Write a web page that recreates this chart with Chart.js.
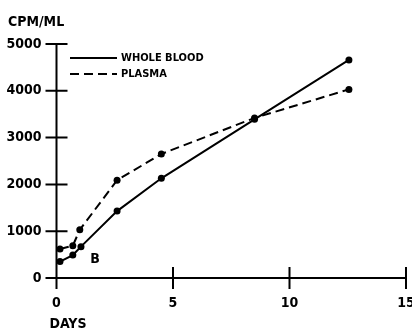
<!DOCTYPE html>
<html>
<head>
<meta charset="utf-8">
<script src="https://cdn.jsdelivr.net/npm/chart.js@4.4.0/dist/chart.umd.min.js"></script>
<style>
  html, body { margin: 0; padding: 0; background: #fff; }
  #wrap { width: 412px; height: 331px; position: relative; }
</style>
</head>
<body>
<div id="wrap"><canvas id="chart"></canvas></div>
<script>
// data
const wholeBloodDays = [0.15, 0.7, 1.05, 2.6, 4.5, 8.5, 12.55];
const wholeBloodCpm = [350, 490, 670, 1430, 2130, 3390, 4660];
const plasmaDays = [0.15, 0.7, 1.0, 2.6, 4.5, 8.5, 12.55];
const plasmaCpm = [620, 690, 1030, 2090, 2650, 3420, 4030];
const xTicks = [0, 5, 10, 15];
const yTicks = [0, 1000, 2000, 3000, 4000, 5000];

const FONT = '"DejaVu Sans Condensed", "DejaVu Sans", sans-serif';

function toPoints(xs, ys) {
  return xs.map((x, i) => ({ x: x, y: ys[i] }));
}

// axes drawn through the origin with ticks crossing the line, plus legend and labels
const crossAxes = {
  id: 'crossAxes',
  afterDraw(chart) {
    const ctx = chart.ctx;
    const xs = chart.scales.x;
    const ys = chart.scales.y;
    const x0 = xs.getPixelForValue(0);
    const y0 = ys.getPixelForValue(0);
    const t = 11;
    ctx.save();
    ctx.strokeStyle = '#000';
    ctx.lineWidth = 2;
    ctx.beginPath();
    ctx.moveTo(x0, y0);
    ctx.lineTo(xs.getPixelForValue(15), y0);
    ctx.moveTo(x0, y0);
    ctx.lineTo(x0, ys.getPixelForValue(5000));
    xTicks.forEach(v => {
      const px = xs.getPixelForValue(v);
      ctx.moveTo(px, y0 - t);
      ctx.lineTo(px, y0 + t);
    });
    yTicks.forEach(v => {
      const py = ys.getPixelForValue(v);
      ctx.moveTo(x0 - t, py);
      ctx.lineTo(x0 + t, py);
    });
    ctx.stroke();

    // legend: line sample + name
    chart.data.datasets.forEach((ds, i) => {
      const ly = 58 + i * 16;
      ctx.beginPath();
      ctx.setLineDash(ds.borderDash || []);
      ctx.lineWidth = ds.borderWidth;
      ctx.moveTo(70, ly);
      ctx.lineTo(117, ly);
      ctx.stroke();
      ctx.setLineDash([]);
      ctx.fillStyle = '#000';
      ctx.font = 'bold 11px ' + FONT;
      ctx.textAlign = 'left';
      ctx.textBaseline = 'middle';
      ctx.fillText(ds.label, 121, ly);
    });

    // titles and panel letter
    ctx.fillStyle = '#000';
    ctx.font = 'bold 14px ' + FONT;
    ctx.textBaseline = 'middle';
    ctx.textAlign = 'left';
    ctx.fillText('CPM/ML', 8, 22);
    ctx.textAlign = 'center';
    ctx.fillText('DAYS', 68, 324);
    ctx.fillText('B', xs.getPixelForValue(1.65), ys.getPixelForValue(400));
    ctx.restore();
  }
};

new Chart(document.getElementById('chart'), {
  type: 'line',
  data: {
    datasets: [
      {
        label: 'WHOLE BLOOD',
        data: toPoints(wholeBloodDays, wholeBloodCpm),
        borderColor: '#000',
        backgroundColor: '#000',
        borderWidth: 2,
        pointRadius: 3.5,
        pointBackgroundColor: '#000',
        pointBorderWidth: 0,
        tension: 0
      },
      {
        label: 'PLASMA',
        data: toPoints(plasmaDays, plasmaCpm),
        borderColor: '#000',
        backgroundColor: '#000',
        borderWidth: 2,
        borderDash: [9, 5],
        pointRadius: 3.5,
        pointBackgroundColor: '#000',
        pointBorderWidth: 0,
        tension: 0
      }
    ]
  },
  options: {
    responsive: true,
    maintainAspectRatio: false,
    animation: false,
    layout: { padding: { left: 0, right: 6, top: 44, bottom: 0 } },
    scales: {
      x: {
        type: 'linear',
        min: 0,
        max: 15,
        afterBuildTicks: s => { s.ticks = xTicks.map(v => ({ value: v })); },
        afterFit: s => { s.height = 53; s.paddingRight = 0; s.paddingLeft = 0; },
        grid: { display: false },
        border: { display: false },
        ticks: {
          color: '#000',
          padding: 9,
          callback: v => String(v),
          font: { family: FONT, size: 14, weight: 'bold' }
        }
      },
      y: {
        type: 'linear',
        min: 0,
        max: 5000,
        afterBuildTicks: s => { s.ticks = yTicks.map(v => ({ value: v })); },
        afterFit: s => { s.width = 56.5; },
        grid: { display: false },
        border: { display: false },
        ticks: {
          color: '#000',
          padding: 7,
          callback: v => String(v),
          font: { family: FONT, size: 14, weight: 'bold' }
        }
      }
    },
    plugins: {
      tooltip: { enabled: false },
      legend: { display: false }
    }
  },
  plugins: [crossAxes]
});
</script>
</body>
</html>
